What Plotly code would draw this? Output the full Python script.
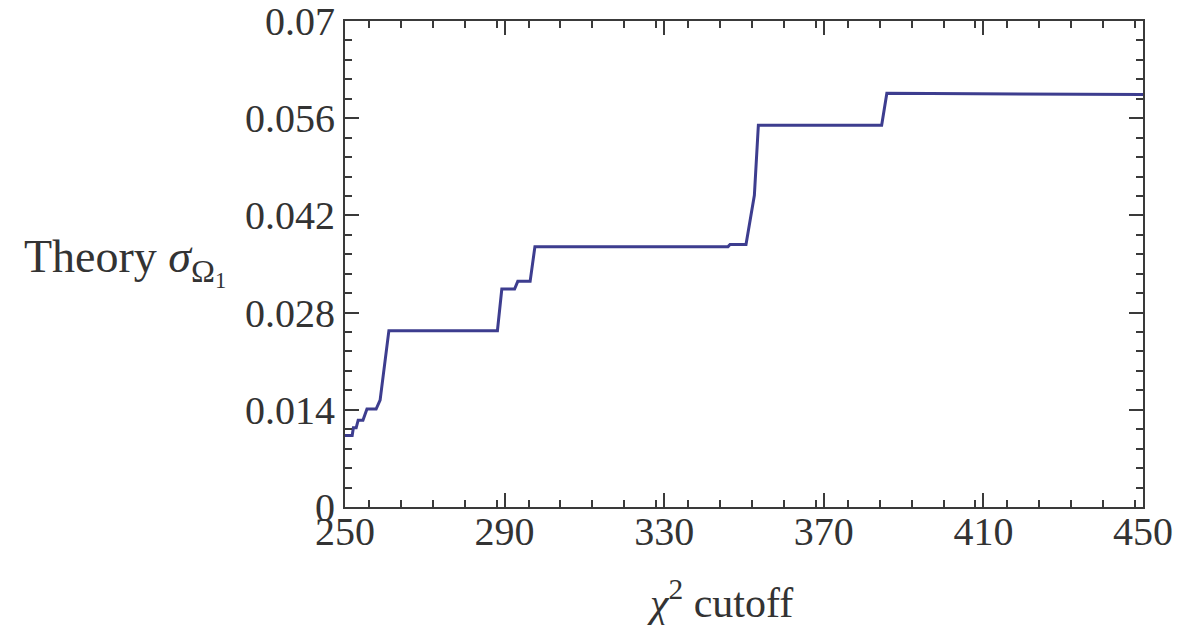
import plotly.graph_objects as go

# step-curve vertices
chi2_cutoff = [250, 251.8, 252.1, 252.8, 253.3, 254.5, 255.5, 257.8, 258.8, 261.0,
               288.2, 289.3, 292.5, 293.3, 296.4, 297.6,
               346.0, 346.5, 350.5, 352.6, 353.6,
               384.5, 385.8, 450]
theory_sigma = [0.0103, 0.0103, 0.0114, 0.0114, 0.0125, 0.0125, 0.0141, 0.0141, 0.0154, 0.0254,
                0.0254, 0.0314, 0.0314, 0.0325, 0.0325, 0.0375,
                0.0375, 0.0378, 0.0378, 0.0449, 0.0550,
                0.0550, 0.0596, 0.0594]

x_ticks = [250, 290, 330, 370, 410, 450]
y_ticks = [0, 0.014, 0.028, 0.042, 0.056, 0.07]
y_tick_labels = ["0", "0.014", "0.028", "0.042", "0.056", "0.07"]

font_family = "Liberation Serif, Times New Roman, serif"
axis_color = "#3a3a3a"
text_color = "#333333"

fig = go.Figure()
fig.add_trace(go.Scatter(x=chi2_cutoff, y=theory_sigma, mode="lines",
                         line=dict(color="#3d3d8f", width=3), showlegend=False))

common = dict(showgrid=False, zeroline=False, showline=True, linecolor=axis_color,
              linewidth=2, mirror="allticks", ticks="inside", ticklen=14,
              tickwidth=2, tickcolor=axis_color, automargin=False,
              ticklabeloverflow="allow",
              tickfont=dict(family=font_family, size=40, color=text_color))

fig.update_xaxes(range=[250, 450], tickvals=x_ticks, ticktext=[str(v) for v in x_ticks],
                 ticklabelstandoff=-12,
                 minor=dict(ticks="inside", ticklen=7, tickwidth=2, tickcolor=axis_color, dtick=8),
                 **common)
fig.update_yaxes(range=[0, 0.0700001], tickvals=y_ticks, ticktext=y_tick_labels,
                 minor=dict(ticks="inside", ticklen=7, tickwidth=2, tickcolor=axis_color, dtick=0.0028),
                 **common)

fig.add_annotation(xref="paper", yref="paper", x=-0.146, y=0.504, xanchor="right", yanchor="middle",
                   text="Theory <i>σ</i><sub>Ω<sub>1</sub></sub>", showarrow=False,
                   font=dict(family=font_family, size=46, color=text_color))
fig.add_annotation(xref="paper", yref="paper", x=0.469, y=-0.19, xanchor="center", yanchor="middle",
                   text="<i>χ</i><sup>2</sup> cutoff", showarrow=False,
                   font=dict(family=font_family, size=42, color=text_color))

fig.update_layout(width=1183, height=625, margin=dict(l=345, r=40, t=21, b=118),
                  plot_bgcolor="white", paper_bgcolor="white")

fig.write_html("out.html")
